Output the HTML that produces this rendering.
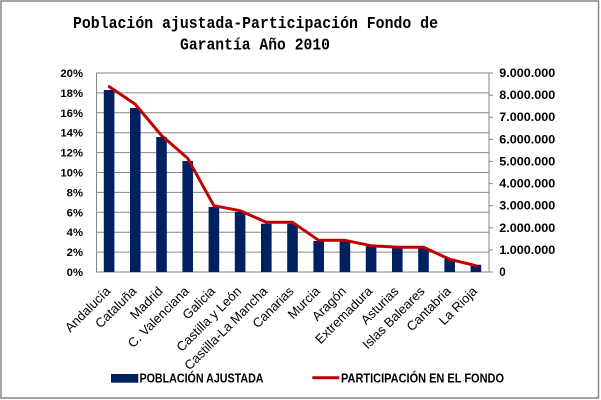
<!DOCTYPE html>
<html><head><meta charset="utf-8"><style>
html,body{margin:0;padding:0;background:#fff;}
svg{display:block;}
</style></head><body>
<svg width="601" height="400" viewBox="0 0 601 400" xmlns="http://www.w3.org/2000/svg">
<rect x="0" y="0" width="601" height="400" fill="#fff"/>
<rect x="1" y="1" width="597.5" height="397" fill="none" stroke="#868686" stroke-width="1.5"/>
<g font-family="'Liberation Mono', monospace" font-weight="bold" font-size="17" fill="#000">
<text x="73" y="28" textLength="365" lengthAdjust="spacingAndGlyphs">Población ajustada-Participación Fondo de</text>
<text x="180" y="49.5" textLength="150" lengthAdjust="spacingAndGlyphs">Garantía Año 2010</text>
</g>
<g stroke="#868686" stroke-width="1" fill="none">
<line x1="96" y1="73" x2="489" y2="73"/>
<line x1="96" y1="92.9" x2="489" y2="92.9"/>
<line x1="96" y1="112.8" x2="489" y2="112.8"/>
<line x1="96" y1="132.7" x2="489" y2="132.7"/>
<line x1="96" y1="152.6" x2="489" y2="152.6"/>
<line x1="96" y1="172.5" x2="489" y2="172.5"/>
<line x1="96" y1="192.4" x2="489" y2="192.4"/>
<line x1="96" y1="212.3" x2="489" y2="212.3"/>
<line x1="96" y1="232.2" x2="489" y2="232.2"/>
<line x1="96" y1="252.1" x2="489" y2="252.1"/>
<line x1="96" y1="272" x2="489" y2="272"/>
<line x1="96.5" y1="73" x2="96.5" y2="272"/>
<line x1="489" y1="73" x2="489" y2="272"/>
<line x1="489" y1="73" x2="493" y2="73"/>
<line x1="489" y1="95.1" x2="493" y2="95.1"/>
<line x1="489" y1="117.2" x2="493" y2="117.2"/>
<line x1="489" y1="139.3" x2="493" y2="139.3"/>
<line x1="489" y1="161.4" x2="493" y2="161.4"/>
<line x1="489" y1="183.6" x2="493" y2="183.6"/>
<line x1="489" y1="205.7" x2="493" y2="205.7"/>
<line x1="489" y1="227.8" x2="493" y2="227.8"/>
<line x1="489" y1="249.9" x2="493" y2="249.9"/>
<line x1="489" y1="272" x2="493" y2="272"/>
</g>
<g fill="#002060">
<rect x="103.8" y="90" width="10.6" height="182"/>
<rect x="130" y="108" width="10.6" height="164"/>
<rect x="156.2" y="137" width="10.6" height="135"/>
<rect x="182.4" y="161" width="10.6" height="111"/>
<rect x="208.6" y="207" width="10.6" height="65"/>
<rect x="234.8" y="212" width="10.6" height="60"/>
<rect x="261" y="223.7" width="10.6" height="48.3"/>
<rect x="287.2" y="223.7" width="10.6" height="48.3"/>
<rect x="313.4" y="241" width="10.6" height="31"/>
<rect x="339.6" y="241" width="10.6" height="31"/>
<rect x="365.8" y="246.3" width="10.6" height="25.7"/>
<rect x="392" y="248" width="10.6" height="24"/>
<rect x="418.2" y="248" width="10.6" height="24"/>
<rect x="444.4" y="258.7" width="10.6" height="13.3"/>
<rect x="470.6" y="264.7" width="10.6" height="7.3"/>
</g>
<polyline fill="none" stroke="#c00000" stroke-width="3" stroke-linejoin="round" stroke-linecap="round"
points="109.3,86.7 135.3,104.3 161.5,135.5 187.7,158.3 213.9,205.7 240.1,210.7 266.3,222.3 292.5,222.3 318.7,240.3 344.9,240.3 371.1,245.7 397.3,247.3 423.5,247.3 449.7,259.3 475.9,265.7"/>
<g font-family="'Liberation Sans', sans-serif" font-weight="bold" font-size="11.3" fill="#000" text-anchor="end">
<text x="83" y="77">20%</text>
<text x="83" y="96.9">18%</text>
<text x="83" y="116.8">16%</text>
<text x="83" y="136.7">14%</text>
<text x="83" y="156.6">12%</text>
<text x="83" y="176.5">10%</text>
<text x="83" y="196.4">8%</text>
<text x="83" y="216.3">6%</text>
<text x="83" y="236.2">4%</text>
<text x="83" y="256.1">2%</text>
<text x="83" y="276">0%</text>
</g>
<g font-family="'Liberation Sans', sans-serif" font-weight="bold" font-size="11.5" fill="#000">
<text x="499.3" y="77" textLength="56" lengthAdjust="spacingAndGlyphs">9.000.000</text>
<text x="499.3" y="99.1" textLength="56" lengthAdjust="spacingAndGlyphs">8.000.000</text>
<text x="499.3" y="121.2" textLength="56" lengthAdjust="spacingAndGlyphs">7.000.000</text>
<text x="499.3" y="143.3" textLength="56" lengthAdjust="spacingAndGlyphs">6.000.000</text>
<text x="499.3" y="165.4" textLength="56" lengthAdjust="spacingAndGlyphs">5.000.000</text>
<text x="499.3" y="187.6" textLength="56" lengthAdjust="spacingAndGlyphs">4.000.000</text>
<text x="499.3" y="209.7" textLength="56" lengthAdjust="spacingAndGlyphs">3.000.000</text>
<text x="499.3" y="231.8" textLength="56" lengthAdjust="spacingAndGlyphs">2.000.000</text>
<text x="499.3" y="253.9" textLength="56" lengthAdjust="spacingAndGlyphs">1.000.000</text>
<text x="499.3" y="276">0</text>
</g>
<g font-family="'Liberation Sans', sans-serif" font-size="13" fill="#000" text-anchor="end">
<text transform="translate(111.1,292) rotate(-45)">Andalucía</text>
<text transform="translate(137.3,292) rotate(-45)">Cataluña</text>
<text transform="translate(163.5,292) rotate(-45)">Madrid</text>
<text transform="translate(189.7,292) rotate(-45)">C. Valenciana</text>
<text transform="translate(215.9,292) rotate(-45)">Galicia</text>
<text transform="translate(242.1,292) rotate(-45)">Castilla y León</text>
<text transform="translate(268.3,292) rotate(-45)">Castilla-La Mancha</text>
<text transform="translate(294.5,292) rotate(-45)">Canarias</text>
<text transform="translate(320.7,292) rotate(-45)">Murcia</text>
<text transform="translate(346.9,292) rotate(-45)">Aragón</text>
<text transform="translate(373.1,292) rotate(-45)">Extremadura</text>
<text transform="translate(399.3,292) rotate(-45)">Asturias</text>
<text transform="translate(425.5,292) rotate(-45)">Islas Baleares</text>
<text transform="translate(451.7,292) rotate(-45)">Cantabria</text>
<text transform="translate(477.9,292) rotate(-45)">La Rioja</text>
</g>
<rect x="111" y="374" width="27.3" height="8.7" fill="#002060"/>
<line x1="312.3" y1="377.8" x2="339.3" y2="377.8" stroke="#c00000" stroke-width="3"/>
<g font-family="'Liberation Sans', sans-serif" font-weight="bold" font-size="12.5" fill="#000">
<text x="139.5" y="382.5" textLength="124" lengthAdjust="spacingAndGlyphs">POBLACIÓN AJUSTADA</text>
<text x="341" y="382.5" textLength="163" lengthAdjust="spacingAndGlyphs">PARTICIPACIÓN EN EL FONDO</text>
</g>
</svg>
</body></html>
